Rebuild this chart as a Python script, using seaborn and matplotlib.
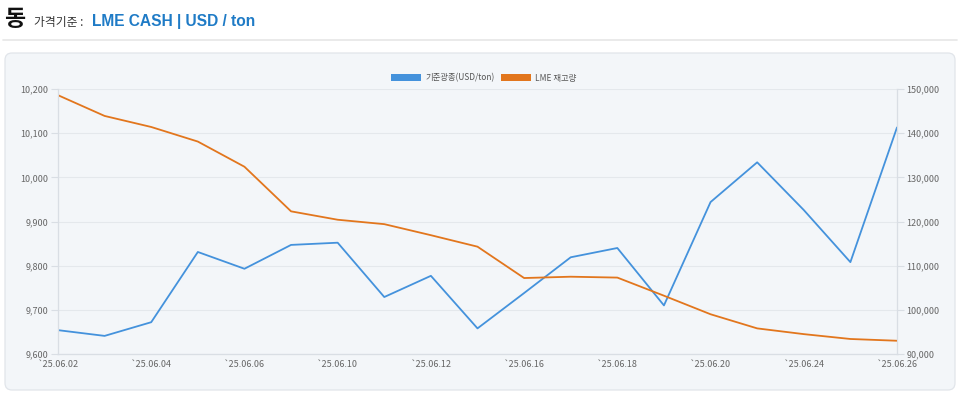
import numpy as np
import matplotlib
matplotlib.use("Agg")
import matplotlib.pyplot as plt
from matplotlib.patches import FancyBboxPatch, Patch
from matplotlib.ticker import FuncFormatter
import seaborn as sns

# 거래일 (2025년 6월)
dates = ['25.06.02', '25.06.03', '25.06.04', '25.06.05', '25.06.06',
         '25.06.09', '25.06.10', '25.06.11', '25.06.12', '25.06.13',
         '25.06.16', '25.06.17', '25.06.18', '25.06.19', '25.06.20',
         '25.06.23', '25.06.24', '25.06.25', '25.06.26']
price = [9654, 9641, 9672, 9831, 9793, 9847, 9852, 9729, 9777, 9658,
         9738, 9819, 9840, 9710, 9944, 10034, 9926, 9808, 10113]
stock = [148600, 143900, 141400, 138100, 132400, 122300, 120400, 119400, 116900, 114300,
         107200, 107500, 107300, 103200, 99000, 95800, 94500, 93400, 93000]

price_label = '기준광종(USD/ton)'
stock_label = 'LME 재고량'
c_price = '#4492dc'
c_stock = '#e2761d'

sns.set_style("white")
plt.rcParams['font.family'] = ['Noto Sans CJK KR', 'DejaVu Sans']

W, H = 960, 394
fig = plt.figure(figsize=(W / 100, H / 100), dpi=100)

# 배경 (픽셀 좌표)
bg = fig.add_axes([0, 0, 1, 1], zorder=0)
bg.set_xlim(0, W)
bg.set_ylim(H, 0)
bg.axis('off')
bg.plot([3, 957], [39.5, 39.5], color='#e6e6e6', lw=1.2)
bg.add_patch(FancyBboxPatch((5, 53), 950, 337, boxstyle="round,pad=0,rounding_size=7",
                            fc='#f3f6f9', ec='#e1e5ea', lw=0.9))
bg.text(4, 19, '동', fontsize=16.5, fontweight='bold', va='center', ha='left', color='#111111')
bg.text(34, 22, '가격기준 :', fontsize=8.5, va='center', ha='left', color='#333333')
bg.text(92, 21, 'LME CASH | USD / ton', fontsize=11.2, fontweight='bold',
        va='center', ha='left', color='#1f7bc6', family=['Liberation Sans', 'DejaVu Sans'])

# 차트 영역
ax = fig.add_axes([58 / W, 1 - 354 / H, (897 - 58) / W, (354 - 89) / H], zorder=1)
ax.patch.set_alpha(0)
sns.lineplot(x=dates, y=price, ax=ax, color=c_price, lw=1.3, sort=False)
ax2 = ax.twinx()
sns.lineplot(x=dates, y=stock, ax=ax2, color=c_stock, lw=1.3, sort=False)

ax.set_xlim(0, len(dates) - 1)
ax.set_ylim(9600, 10200)
ax2.set_ylim(90000, 150000)
ax.set_yticks(np.arange(9600, 10201, 100))
ax2.set_yticks(np.arange(90000, 150001, 10000))
fmt = FuncFormatter(lambda v, p: f'{int(v):,}')
ax.yaxis.set_major_formatter(fmt)
ax2.yaxis.set_major_formatter(fmt)

ax.set_xticks(range(0, len(dates), 2))
ax.set_xticklabels(['`' + d for d in dates[::2]])
ax.set_xlabel('')
ax.set_ylabel('')
ax2.set_ylabel('')

ax.grid(axis='y', color='#e4e8ec', lw=0.8)
ax.set_axisbelow(True)
for a in (ax, ax2):
    for s in a.spines.values():
        s.set_color('#d9dee4')
        s.set_linewidth(0.8)
    a.spines['top'].set_visible(False)
ax.tick_params(axis='y', length=5, width=0.8, color='#d9dee4', labelsize=6.5,
               labelcolor='#666666', pad=2)
ax2.tick_params(axis='y', length=5, width=0.8, color='#d9dee4', labelsize=6.5,
                labelcolor='#666666', pad=2)
ax.tick_params(axis='x', length=0, labelsize=6.5, labelcolor='#666666', pad=4)

handles = [Patch(fc=c_price, ec='none'), Patch(fc=c_stock, ec='none')]
fig.legend(handles, [price_label, stock_label], loc='center', bbox_to_anchor=(484 / W, 1 - 78 / H),
           ncol=2, frameon=False, fontsize=6, handlelength=3.6, handleheight=1.0,
           handletextpad=0.5, columnspacing=0.8, labelcolor='#555555')

fig.savefig('out.png', dpi=100)
